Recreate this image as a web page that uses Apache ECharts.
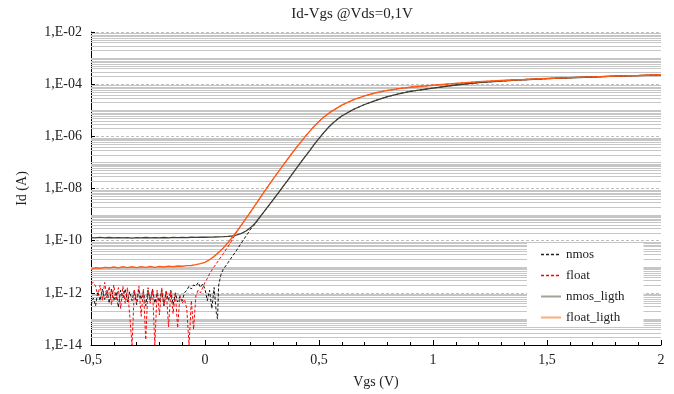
<!DOCTYPE html>
<html>
<head>
<meta charset="utf-8">
<script src="https://cdn.jsdelivr.net/npm/echarts@6/dist/echarts.min.js"></script>
<style>html,body{margin:0;padding:0;background:#fff}#c{width:674px;height:394px}</style>
</head>
<body>
<div id="c"></div>
<script>
// ---- data (Vgs in V, Id in A) ----
const titleText = 'Id-Vgs @Vds=0,1V';
const seriesNames = ['nmos', 'float', 'nmos_ligth', 'float_ligth'];
const xTicks = [-0.5, 0, 0.5, 1, 1.5, 2];

// nmos (dark, noisy dark-current part then rise; continues on nmos_ligth)
const nmosV = [-0.50,-0.49,-0.48,-0.47,-0.46,-0.45,-0.44,-0.43,-0.42,-0.41,-0.40,-0.39,-0.38,-0.37,-0.36,-0.35,-0.34,-0.33,-0.32,-0.31,-0.30,-0.29,-0.28,-0.27,-0.26,-0.25,-0.24,-0.23,-0.22,-0.21,-0.20,-0.19,-0.18,-0.17,-0.16,-0.15,-0.14,-0.13,-0.12,-0.11,-0.10,-0.09,-0.08,-0.07,-0.06,-0.05,-0.04,-0.03,-0.02,-0.01,0.00,0.01,0.02,0.03,0.04,0.05,0.055,0.06,0.07,0.08,0.10,0.12,0.14,0.16,0.18,0.20,0.22,0.24];
const nmosI = [3.5e-13,6.3e-13,3.2e-13,1.1e-12,5.0e-13,1.4e-12,5.6e-13,1.26e-12,4.0e-13,1.4e-12,5.0e-13,1.1e-12,2.8e-13,1.26e-12,6.3e-13,1.4e-12,4.5e-13,1.1e-12,5.0e-13,1.26e-12,3.5e-13,1.4e-12,5.6e-13,1.1e-12,3.2e-13,1.26e-12,5.0e-13,1.4e-12,4.0e-13,1.0e-12,4.5e-13,1.26e-12,3.2e-13,1.1e-12,5.0e-13,1.26e-12,3.5e-13,1.0e-12,4.5e-13,7.1e-13,5.0e-13,1.0e-12,1.26e-12,1.8e-12,1.4e-12,2.0e-12,1.8e-12,2.5e-12,1.6e-12,2.2e-12,1.4e-12,5.0e-13,1.26e-12,2.5e-13,1.6e-12,1.6e-13,1.0e-13,2.0e-12,5.0e-12,7.9e-12,1.4e-11,2.5e-11,4.5e-11,8.3e-11,1.5e-10,2.75e-10,4.4e-10,7.6e-10];

// float (dark, noisy part then rise; continues on float_ligth)
const floatV = [-0.50,-0.49,-0.48,-0.47,-0.46,-0.45,-0.44,-0.43,-0.42,-0.41,-0.40,-0.39,-0.38,-0.37,-0.36,-0.35,-0.34,-0.33,-0.32,-0.31,-0.30,-0.29,-0.28,-0.27,-0.26,-0.25,-0.24,-0.23,-0.22,-0.21,-0.20,-0.19,-0.18,-0.17,-0.16,-0.15,-0.14,-0.13,-0.12,-0.11,-0.10,-0.09,-0.08,-0.07,-0.06,-0.05,-0.04,-0.03,-0.02,-0.01,0.00,0.01,0.02,0.04,0.06,0.08,0.10,0.12];
const floatI = [2.24e-12,2.5e-12,1.78e-12,7.9e-13,2.0e-12,5.0e-13,2.5e-12,6.3e-13,1.78e-12,3.5e-13,2.0e-12,5.0e-13,1.58e-12,2.5e-13,1.78e-12,4.0e-13,1.58e-12,1.26e-13,1.0e-14,1.26e-12,5.0e-13,1.78e-12,1.26e-13,1.41e-12,1.58e-14,1.58e-12,4.0e-13,1.41e-12,1.0e-14,1.26e-12,1.41e-13,1.58e-12,3.2e-13,1.26e-12,5.0e-14,1.12e-12,1.58e-13,1.0e-12,4.5e-14,7.9e-13,4.0e-13,5.6e-13,2.5e-13,1.0e-14,5.0e-13,4.0e-14,7.9e-13,1.26e-12,1.0e-12,1.58e-12,2.5e-12,3.5e-12,5.4e-12,1.0e-11,1.78e-11,3.16e-11,5.75e-11,1.1e-10];

// nmos_ligth
const nmosLigthV = [-0.50,-0.48,-0.46,-0.44,-0.42,-0.40,-0.38,-0.36,-0.34,-0.32,-0.30,-0.28,-0.26,-0.24,-0.22,-0.20,-0.18,-0.16,-0.14,-0.12,-0.10,-0.08,-0.06,-0.04,-0.02,0.00,0.02,0.04,0.06,0.08,0.10,0.12,0.14,0.16,0.18,0.20,0.22,0.24,0.26,0.28,0.30,0.32,0.34,0.36,0.38,0.40,0.42,0.44,0.46,0.48,0.50,0.52,0.54,0.56,0.58,0.60,0.65,0.70,0.75,0.80,0.85,0.90,1.00,1.10,1.20,1.30,1.40,1.50,1.60,1.70,1.80,1.90,2.00];
const nmosLigthI = [1.30e-10,1.27e-10,1.33e-10,1.28e-10,1.32e-10,1.27e-10,1.31e-10,1.28e-10,1.30e-10,1.26e-10,1.31e-10,1.28e-10,1.32e-10,1.29e-10,1.31e-10,1.28e-10,1.32e-10,1.29e-10,1.33e-10,1.30e-10,1.34e-10,1.31e-10,1.35e-10,1.33e-10,1.36e-10,1.35e-10,1.37e-10,1.38e-10,1.40e-10,1.42e-10,1.45e-10,1.51e-10,1.66e-10,1.9e-10,2.34e-10,3.16e-10,4.68e-10,7.94e-10,1.32e-9,2.24e-9,3.8e-9,6.46e-9,1.12e-8,1.9e-8,3.31e-8,5.75e-8,1.0e-7,1.7e-7,2.88e-7,5.0e-7,8.3e-7,1.35e-6,2.14e-6,3.16e-6,4.47e-6,6.0e-6,1.07e-5,1.66e-5,2.4e-5,3.3e-5,4.27e-5,5.25e-5,7.1e-5,9.3e-5,1.15e-4,1.32e-4,1.48e-4,1.62e-4,1.76e-4,1.88e-4,2.02e-4,2.14e-4,2.26e-4];

// float_ligth
const floatLigthV = [-0.50,-0.48,-0.46,-0.44,-0.42,-0.40,-0.38,-0.36,-0.34,-0.32,-0.30,-0.28,-0.26,-0.24,-0.22,-0.20,-0.18,-0.16,-0.14,-0.12,-0.10,-0.08,-0.06,-0.04,-0.02,0.00,0.02,0.04,0.06,0.08,0.10,0.12,0.14,0.16,0.18,0.20,0.22,0.24,0.26,0.28,0.30,0.32,0.34,0.36,0.38,0.40,0.42,0.44,0.46,0.48,0.50,0.52,0.55,0.60,0.65,0.70,0.75,0.80,0.85,0.90,1.00,1.10,1.20,1.30,1.40,1.50,1.60,1.70,1.80,1.90,2.00];
const floatLigthI = [7.9e-12,9.1e-12,8.7e-12,9.5e-12,9.1e-12,9.8e-12,9.1e-12,1.0e-11,9.3e-12,1.0e-11,9.3e-12,1.0e-11,9.5e-12,1.02e-11,9.5e-12,1.02e-11,9.8e-12,1.05e-11,1.0e-11,1.07e-11,1.05e-11,1.1e-11,1.12e-11,1.2e-11,1.32e-11,1.48e-11,1.86e-11,2.5e-11,3.55e-11,5.25e-11,8.3e-11,1.35e-10,2.3e-10,4.0e-10,7.1e-10,1.26e-9,2.3e-9,4.17e-9,7.6e-9,1.35e-8,2.4e-8,4.17e-8,7.2e-8,1.26e-7,2.14e-7,3.63e-7,6.0e-7,1.0e-6,1.58e-6,2.5e-6,3.7e-6,5.4e-6,8.5e-6,1.58e-5,2.5e-5,3.55e-5,4.68e-5,5.75e-5,6.76e-5,7.6e-5,9.1e-5,1.07e-4,1.23e-4,1.38e-4,1.51e-4,1.66e-4,1.78e-4,1.9e-4,2.04e-4,2.14e-4,2.29e-4];

// ---- build ----
function pairs(xs, ys) { return xs.map((v, i) => [v, ys[i]]); }
function continued(xs, ys, tx, ty) {
  const d = pairs(xs, ys);
  const last = xs[xs.length - 1];
  tx.forEach((v, i) => { if (v > last + 1e-9) d.push([v, ty[i]]); });
  return d;
}
// log-axis minor grid positions (2..9 x 10^n, plus odd decades)
const minorGrid = [];
for (let e = -14; e <= -3; e++) {
  for (let m = 1; m <= 9; m++) {
    if (m === 1 && e % 2 === 0) continue;
    minorGrid.push([xTicks[0], +(m * Math.pow(10, e)).toPrecision(3)]);
  }
}
const serif = '"Liberation Serif", "Times New Roman", serif';
function fmtX(v) { return String(+v.toFixed(2)).replace('.', ','); }
function fmtY(v) {
  const e = Math.round(Math.log10(v));
  return '1,E' + (e < 0 ? '-' : '+') + String(Math.abs(e)).padStart(2, '0');
}

const chart = echarts.init(document.getElementById('c'), null, { renderer: 'canvas' });
chart.setOption({
  animation: false,
  backgroundColor: '#fff',
  title: {
    text: titleText, left: 352, top: 7, padding: 0, textAlign: 'center',
    textStyle: { fontFamily: serif, fontSize: 15, fontWeight: 'normal', color: '#222' }
  },
  grid: { left: 91, right: 13, top: 32, bottom: 43 },
  legend: {
    orient: 'vertical', left: 527, top: 243, z: 20,
    padding: [5, 19, 3, 13], itemGap: 8, itemWidth: 20, itemHeight: 14,
    itemStyle: { opacity: 0 },
    backgroundColor: '#ffffff', textStyle: { fontFamily: serif, fontSize: 13, color: '#222' },
    data: [
      { name: 'nmos', lineStyle: { color: '#222222', width: 1.5 } },
      { name: 'float', lineStyle: { color: '#ff0000', width: 1.5 } },
      { name: 'nmos_ligth', lineStyle: { color: '#a5a391', width: 2 } },
      { name: 'float_ligth', lineStyle: { color: '#ffab78', width: 2 } }
    ]
  },
  xAxis: {
    type: 'value', min: -0.5, max: 2, interval: 0.5,
    name: 'Vgs (V)', nameLocation: 'middle', nameGap: 30,
    nameTextStyle: { fontFamily: serif, fontSize: 14, color: '#222' },
    axisLine: { onZero: false, lineStyle: { color: '#000', width: 1 } },
    axisTick: { inside: true, length: 5, lineStyle: { color: '#000' } },
    minorTick: { show: true, splitNumber: 5, length: 3, lineStyle: { color: '#000' } },
    axisLabel: { fontFamily: serif, fontSize: 14, color: '#222', margin: 8, formatter: fmtX },
    splitLine: { show: false }
  },
  yAxis: {
    type: 'log', logBase: 10, min: 1e-14, max: 1e-2, interval: 2,
    name: 'Id (A)', nameLocation: 'middle', nameGap: 62,
    nameTextStyle: { fontFamily: serif, fontSize: 14, color: '#222' },
    axisLine: { show: true, onZero: false, lineStyle: { color: '#000', width: 1 } },
    axisTick: { show: true, inside: true, length: 4, lineStyle: { color: '#000' } },
    axisLabel: { fontFamily: serif, fontSize: 14, color: '#222', margin: 9, formatter: fmtY },
    splitLine: { show: true, lineStyle: { color: '#c0c0c0', type: [3, 2], width: 1 } }
  },
  series: [
    {
      name: 'grid-minor', type: 'custom', silent: true, z: 1, data: minorGrid,
      clip: false,
      renderItem: function (params, api) {
        const cs = params.coordSys;
        const y = Math.round(api.coord([api.value(0), api.value(1)])[1]) + 0.5;
        return {
          type: 'line',
          shape: { x1: cs.x, y1: y, x2: cs.x + cs.width, y2: y },
          style: { stroke: '#c6c6c6', lineWidth: 1 }
        };
      }
    },
    {
      name: 'nmos', type: 'line', z: 3, symbol: 'none', showSymbol: false,
      data: continued(nmosV, nmosI, nmosLigthV, nmosLigthI),
      lineStyle: { color: '#111111', width: 1, type: [3, 2] }, itemStyle: { color: '#111111' }
    },
    {
      name: 'float', type: 'line', z: 3, symbol: 'none', showSymbol: false,
      data: continued(floatV, floatI, floatLigthV, floatLigthI),
      lineStyle: { color: '#ff0000', width: 1, type: [3, 2] }, itemStyle: { color: '#ff0000' }
    },
    {
      name: 'nmos_ligth', type: 'line', z: 4, symbol: 'none', showSymbol: false,
      data: pairs(nmosLigthV, nmosLigthI),
      lineStyle: { color: '#3f3f32', width: 1.3 }, itemStyle: { color: '#3f3f32' }
    },
    {
      name: 'float_ligth', type: 'line', z: 5, symbol: 'none', showSymbol: false,
      data: pairs(floatLigthV, floatLigthI),
      lineStyle: { color: '#ff5a14', width: 1.4 }, itemStyle: { color: '#ff5a14' }
    }
  ]
});
</script>
</body>
</html>
